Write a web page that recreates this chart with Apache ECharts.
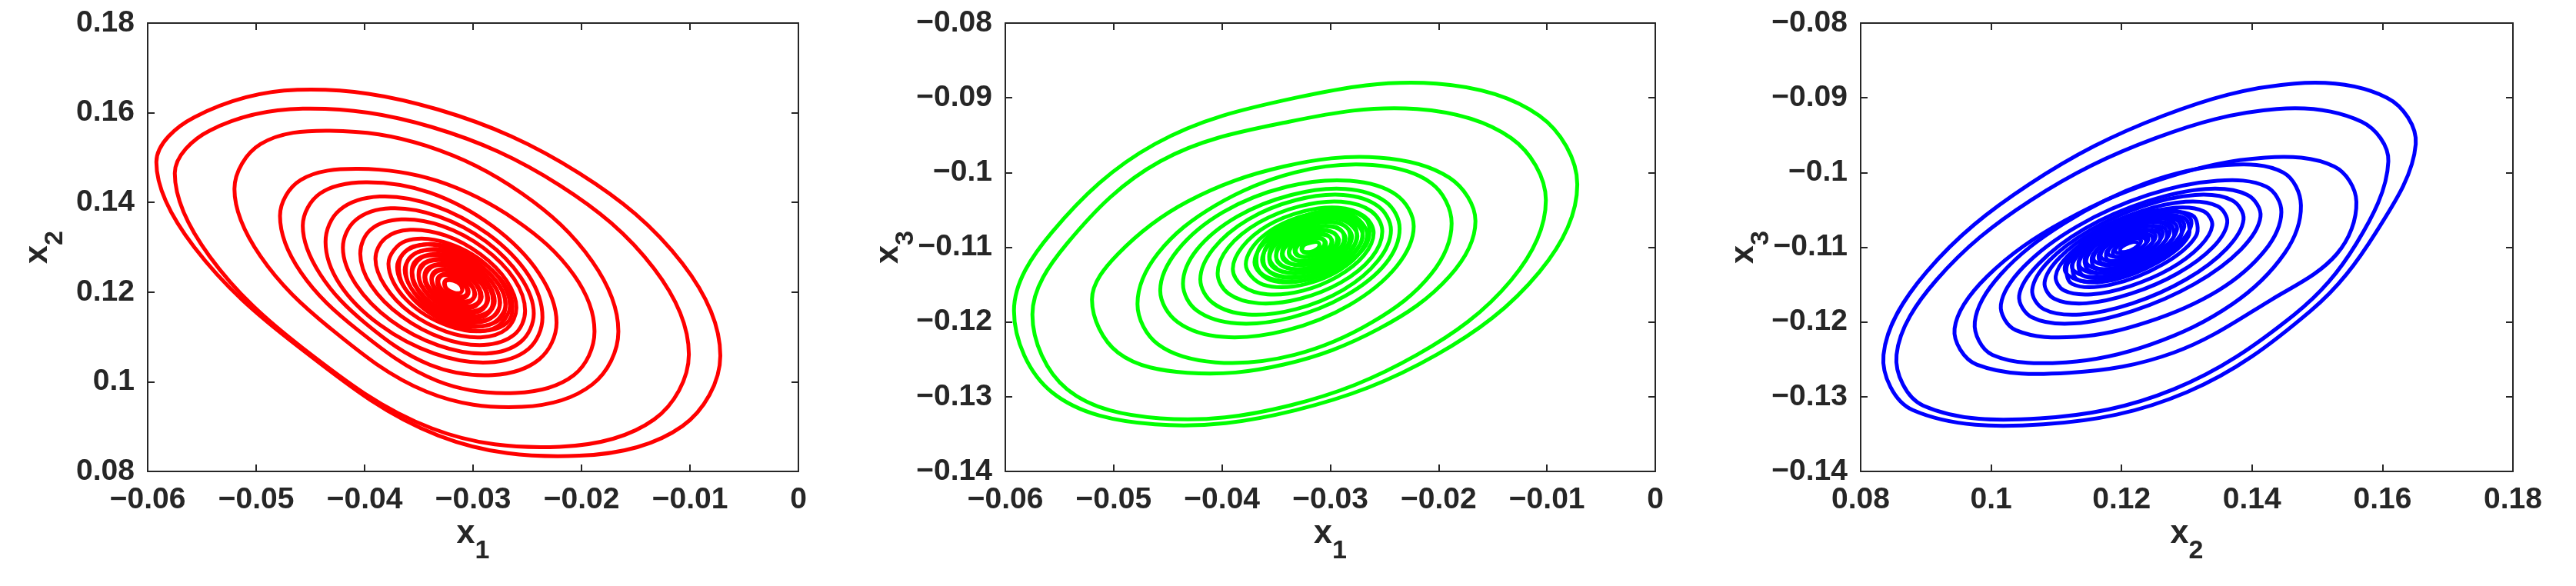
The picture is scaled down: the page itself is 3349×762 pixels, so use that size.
<!DOCTYPE html>
<html>
<head>
<meta charset="utf-8">
<script src="https://cdn.jsdelivr.net/npm/echarts@6/dist/echarts.min.js"></script>
<style>
html, body { margin: 0; padding: 0; background: #fff; }
#chart { width: 3349px; height: 762px; }
</style>
</head>
<body>
<div id="chart"></div>
<script>
// tick values of the three axes
const x1Ticks = [-0.06, -0.05, -0.04, -0.03, -0.02, -0.01, 0]
const x2Ticks = [0.08, 0.1, 0.12, 0.14, 0.16, 0.18]
const x3Ticks = [-0.14, -0.13, -0.12, -0.11, -0.1, -0.09, -0.08]

// number of points in each loop of the trajectory (core loops first)
const loopSizes = [8, 8, 8, 8, 8, 8, 8, 8, 8, 8, 8, 8, 8, 8, 8, 8, 8,
    12, 12, 12, 12, 12, 12, 12, 12, 12]

// trajectory, loop by loop, from the dense core outwards
const x1 = [
    -0.0310, -0.0312, -0.0318, -0.0324, -0.0326, -0.0324, -0.0318, -0.0312,
    -0.0306, -0.0312, -0.0320, -0.0326, -0.0326, -0.0320, -0.0312, -0.0306,
    -0.0304, -0.0308, -0.0318, -0.0328, -0.0332, -0.0328, -0.0318, -0.0308,
    -0.0300, -0.0310, -0.0323, -0.0332, -0.0332, -0.0323, -0.0310, -0.0300,
    -0.0298, -0.0304, -0.0318, -0.0332, -0.0338, -0.0332, -0.0318, -0.0304,
    -0.0295, -0.0307, -0.0325, -0.0337, -0.0337, -0.0325, -0.0307, -0.0295,
    -0.0292, -0.0300, -0.0318, -0.0336, -0.0344, -0.0336, -0.0318, -0.0300,
    -0.0289, -0.0305, -0.0327, -0.0343, -0.0343, -0.0327, -0.0305, -0.0289,
    -0.0286, -0.0295, -0.0318, -0.0341, -0.0350, -0.0341, -0.0318, -0.0295,
    -0.0284, -0.0303, -0.0329, -0.0348, -0.0348, -0.0329, -0.0303, -0.0284,
    -0.0280, -0.0291, -0.0318, -0.0345, -0.0356, -0.0345, -0.0318, -0.0291,
    -0.0278, -0.0300, -0.0332, -0.0354, -0.0354, -0.0332, -0.0300, -0.0278,
    -0.0275, -0.0288, -0.0319, -0.0350, -0.0363, -0.0350, -0.0319, -0.0288,
    -0.0273, -0.0298, -0.0334, -0.0359, -0.0359, -0.0334, -0.0298, -0.0273,
    -0.0270, -0.0285, -0.0320, -0.0355, -0.0370, -0.0355, -0.0320, -0.0285,
    -0.0267, -0.0296, -0.0336, -0.0365, -0.0365, -0.0336, -0.0296, -0.0267,
    -0.0266, -0.0282, -0.0322, -0.0362, -0.0378, -0.0362, -0.0322, -0.0282,
    -0.0260, -0.0269, -0.0293, -0.0325, -0.0358, -0.0381, -0.0390, -0.0381, -0.0358, -0.0325, -0.0293, -0.0269,
    -0.0252, -0.0262, -0.0290, -0.0328, -0.0366, -0.0394, -0.0404, -0.0394, -0.0366, -0.0328, -0.0290, -0.0262,
    -0.0244, -0.0256, -0.0288, -0.0332, -0.0376, -0.0408, -0.0420, -0.0408, -0.0376, -0.0332, -0.0288, -0.0256,
    -0.0236, -0.0249, -0.0286, -0.0336, -0.0386, -0.0423, -0.0436, -0.0423, -0.0386, -0.0336, -0.0286, -0.0249,
    -0.0223, -0.0239, -0.0282, -0.0340, -0.0399, -0.0441, -0.0457, -0.0441, -0.0399, -0.0340, -0.0282, -0.0239,
    -0.0188, -0.0207, -0.0261, -0.0333, -0.0406, -0.0459, -0.0478, -0.0459, -0.0406, -0.0333, -0.0261, -0.0207,
    -0.0166, -0.0190, -0.0255, -0.0343, -0.0432, -0.0496, -0.0520, -0.0496, -0.0432, -0.0343, -0.0255, -0.0190,
    -0.0101, -0.0133, -0.0220, -0.0338, -0.0457, -0.0543, -0.0575, -0.0543, -0.0457, -0.0338, -0.0220, -0.0133,
    -0.0072, -0.0107, -0.0202, -0.0332, -0.0462, -0.0557, -0.0592, -0.0557, -0.0462, -0.0332, -0.0202, -0.0107
]
const x2 = [
    0.1205, 0.1198, 0.1199, 0.1207, 0.1219, 0.1226, 0.1225, 0.1217,
    0.1195, 0.1190, 0.1197, 0.1212, 0.1225, 0.1230, 0.1223, 0.1208,
    0.1200, 0.1187, 0.1189, 0.1204, 0.1224, 0.1237, 0.1235, 0.1220,
    0.1186, 0.1179, 0.1190, 0.1212, 0.1234, 0.1241, 0.1230, 0.1208,
    0.1195, 0.1177, 0.1179, 0.1201, 0.1229, 0.1247, 0.1245, 0.1223,
    0.1178, 0.1168, 0.1183, 0.1213, 0.1242, 0.1252, 0.1237, 0.1207,
    0.1190, 0.1166, 0.1169, 0.1197, 0.1234, 0.1258, 0.1255, 0.1227,
    0.1170, 0.1157, 0.1176, 0.1214, 0.1250, 0.1263, 0.1244, 0.1206,
    0.1185, 0.1156, 0.1159, 0.1194, 0.1239, 0.1268, 0.1265, 0.1230,
    0.1161, 0.1146, 0.1169, 0.1215, 0.1259, 0.1274, 0.1252, 0.1205,
    0.1180, 0.1145, 0.1150, 0.1190, 0.1244, 0.1279, 0.1274, 0.1234,
    0.1153, 0.1135, 0.1161, 0.1216, 0.1267, 0.1285, 0.1259, 0.1204,
    0.1176, 0.1136, 0.1141, 0.1188, 0.1250, 0.1290, 0.1285, 0.1238,
    0.1145, 0.1124, 0.1154, 0.1217, 0.1275, 0.1296, 0.1266, 0.1203,
    0.1172, 0.1127, 0.1132, 0.1186, 0.1256, 0.1302, 0.1296, 0.1242,
    0.1136, 0.1113, 0.1147, 0.1218, 0.1284, 0.1307, 0.1273, 0.1202,
    0.1169, 0.1118, 0.1124, 0.1184, 0.1263, 0.1314, 0.1308, 0.1248,
    0.1165, 0.1118, 0.1099, 0.1112, 0.1154, 0.1213, 0.1274, 0.1320, 0.1339, 0.1326, 0.1284, 0.1225,
    0.1158, 0.1105, 0.1082, 0.1097, 0.1146, 0.1215, 0.1286, 0.1340, 0.1362, 0.1347, 0.1298, 0.1229,
    0.1152, 0.1089, 0.1063, 0.1081, 0.1137, 0.1217, 0.1299, 0.1361, 0.1387, 0.1369, 0.1313, 0.1233,
    0.1144, 0.1073, 0.1043, 0.1063, 0.1127, 0.1218, 0.1312, 0.1383, 0.1413, 0.1393, 0.1329, 0.1238,
    0.1132, 0.1050, 0.1015, 0.1038, 0.1130, 0.1240, 0.1348, 0.1420, 0.1445, 0.1422, 0.1347, 0.1241,
    0.1112, 0.1015, 0.0975, 0.1002, 0.1115, 0.1245, 0.1370, 0.1450, 0.1475, 0.1448, 0.1361, 0.1238,
    0.1112, 0.0994, 0.0944, 0.0978, 0.1120, 0.1280, 0.1430, 0.1530, 0.1560, 0.1526, 0.1420, 0.1268,
    0.1061, 0.0916, 0.0855, 0.0896, 0.1075, 0.1280, 0.1465, 0.1560, 0.1609, 0.1568, 0.1438, 0.1252,
    0.1058, 0.0901, 0.0835, 0.0880, 0.1080, 0.1300, 0.1490, 0.1590, 0.1651, 0.1607, 0.1465, 0.1264
]
const x3 = [
    -0.1097, -0.1102, -0.1106, -0.1106, -0.1103, -0.1097, -0.1094, -0.1093,
    -0.1098, -0.1105, -0.1108, -0.1105, -0.1098, -0.1091, -0.1088, -0.1091,
    -0.1095, -0.1105, -0.1112, -0.1112, -0.1105, -0.1095, -0.1088, -0.1088,
    -0.1098, -0.1108, -0.1113, -0.1109, -0.1098, -0.1088, -0.1083, -0.1087,
    -0.1093, -0.1106, -0.1117, -0.1117, -0.1107, -0.1094, -0.1084, -0.1083,
    -0.1097, -0.1112, -0.1119, -0.1113, -0.1099, -0.1084, -0.1077, -0.1083,
    -0.1091, -0.1108, -0.1121, -0.1122, -0.1109, -0.1092, -0.1079, -0.1079,
    -0.1097, -0.1116, -0.1124, -0.1117, -0.1099, -0.1080, -0.1072, -0.1079,
    -0.1088, -0.1110, -0.1127, -0.1127, -0.1112, -0.1090, -0.1074, -0.1073,
    -0.1097, -0.1120, -0.1130, -0.1121, -0.1099, -0.1076, -0.1066, -0.1075,
    -0.1086, -0.1112, -0.1131, -0.1132, -0.1114, -0.1088, -0.1069, -0.1068,
    -0.1097, -0.1124, -0.1135, -0.1125, -0.1099, -0.1073, -0.1061, -0.1071,
    -0.1085, -0.1115, -0.1138, -0.1138, -0.1117, -0.1087, -0.1064, -0.1064,
    -0.1097, -0.1127, -0.1140, -0.1129, -0.1099, -0.1069, -0.1056, -0.1068,
    -0.1084, -0.1118, -0.1143, -0.1144, -0.1120, -0.1086, -0.1061, -0.1060,
    -0.1097, -0.1131, -0.1146, -0.1133, -0.1099, -0.1065, -0.1050, -0.1063,
    -0.1083, -0.1121, -0.1149, -0.1150, -0.1123, -0.1085, -0.1057, -0.1056,
    -0.1081, -0.1111, -0.1139, -0.1158, -0.1163, -0.1152, -0.1129, -0.1099, -0.1071, -0.1052, -0.1047, -0.1058,
    -0.1079, -0.1114, -0.1147, -0.1169, -0.1175, -0.1162, -0.1135, -0.1100, -0.1067, -0.1045, -0.1039, -0.1052,
    -0.1077, -0.1118, -0.1157, -0.1183, -0.1190, -0.1175, -0.1143, -0.1102, -0.1063, -0.1037, -0.1030, -0.1045,
    -0.1075, -0.1122, -0.1165, -0.1194, -0.1202, -0.1185, -0.1149, -0.1103, -0.1059, -0.1030, -0.1022, -0.1039,
    -0.1072, -0.1126, -0.1177, -0.1211, -0.1220, -0.1200, -0.1158, -0.1104, -0.1053, -0.1019, -0.1011, -0.1030,
    -0.1068, -0.1136, -0.1200, -0.1244, -0.1254, -0.1230, -0.1176, -0.1108, -0.1044, -0.1000, -0.0990, -0.1014,
    -0.1065, -0.1139, -0.1209, -0.1257, -0.1268, -0.1241, -0.1170, -0.1109, -0.1039, -0.0992, -0.0980, -0.1007,
    -0.1037, -0.1144, -0.1244, -0.1312, -0.1329, -0.1290, -0.1190, -0.1095, -0.0985, -0.0932, -0.0915, -0.0954,
    -0.1016, -0.1133, -0.1244, -0.1318, -0.1337, -0.1294, -0.1185, -0.1080, -0.0962, -0.0900, -0.0881, -0.0924
]

const FONT = "'Liberation Sans', Arial, sans-serif"
const INK = '#262626'

// one panel per projection
const panels = [
    {xs: x1, ys: x2, xt: x1Ticks, yt: x2Ticks, xSub: '1', ySub: '2', color: '#ff0000', left: 192, width: 846, yGap: 103},
    {xs: x1, ys: x3, xt: x1Ticks, yt: x3Ticks, xSub: '1', ySub: '3', color: '#00ff00', left: 1307, width: 845, yGap: 112},
    {xs: x2, ys: x3, xt: x2Ticks, yt: x3Ticks, xSub: '2', ySub: '3', color: '#0000ff', left: 2419, width: 848, yGap: 112}
]

const fmt = v => String(+v.toFixed(3)).replace('-', '\u2212')

const nameStyle = {
    color: INK,
    rich: {
        a: {fontFamily: FONT, fontWeight: 'bold', fontSize: 43, color: INK},
        b: {fontFamily: FONT, fontWeight: 'bold', fontSize: 34, color: INK, padding: [46, 0, 0, 0]}
    }
}

const makeAxis = (ticks, gridIndex, position, main, sub, gap) => ({
    type: 'value',
    gridIndex: gridIndex,
    position: position,
    min: ticks[0],
    max: ticks[ticks.length - 1],
    interval: +(ticks[1] - ticks[0]).toFixed(4),
    axisLine: {show: true, onZero: false, lineStyle: {color: INK, width: 2}},
    axisTick: {show: true, inside: true, length: 9, lineStyle: {color: INK, width: 2}},
    axisLabel: {
        show: main,
        formatter: fmt,
        fontFamily: FONT,
        fontWeight: 'bold',
        fontSize: 39,
        color: INK,
        margin: (position === 'bottom') ? 18 : 17
    },
    splitLine: {show: false},
    name: main ? '{a|x}{b|' + sub + '}' : '',
    nameLocation: 'middle',
    nameGap: gap || 0,
    nameRotate: (position === 'left') ? 90 : 0,
    nameMoveOverlap: false,
    nameTextStyle: nameStyle
})

const grid = []
const xAxis = []
const yAxis = []
const series = []

panels.forEach((p, i) => {
    grid.push({left: p.left, top: 30, width: p.width, height: 583, outerBoundsMode: 'none', containLabel: false})
    xAxis.push(makeAxis(p.xt, i, 'bottom', true, p.xSub, 41))
    xAxis.push(makeAxis(p.xt, i, 'top', false))
    yAxis.push(makeAxis(p.yt, i, 'left', true, p.ySub, p.yGap))
    yAxis.push(makeAxis(p.yt, i, 'right', false))
    // every loop as a closed smooth curve, placed through the axes
    series.push({
        type: 'custom',
        coordinateSystem: 'cartesian2d',
        xAxisIndex: i * 2,
        yAxisIndex: i * 2,
        data: p.xs.map((v, k) => [v, p.ys[k]]),
        silent: true,
        renderItem: (params, api) => {
            if (params.dataIndex !== 0) return
            const children = []
            let start = 0
            loopSizes.forEach(n => {
                const pts = []
                for (let k = start; k < start + n; k++) {
                    pts.push(api.coord([p.xs[k], p.ys[k]]))
                }
                start += n
                children.push({
                    type: 'polygon',
                    shape: {points: pts, smooth: 0.36},
                    style: {fill: 'none', stroke: p.color, lineWidth: 5, lineJoin: 'round'}
                })
            })
            return {type: 'group', children: children}
        }
    })
})

const chart = echarts.init(document.getElementById('chart'), null, {renderer: 'canvas'})
chart.setOption({
    backgroundColor: '#ffffff',
    animation: false,
    grid: grid,
    xAxis: xAxis,
    yAxis: yAxis,
    series: series
})
</script>
</body>
</html>
